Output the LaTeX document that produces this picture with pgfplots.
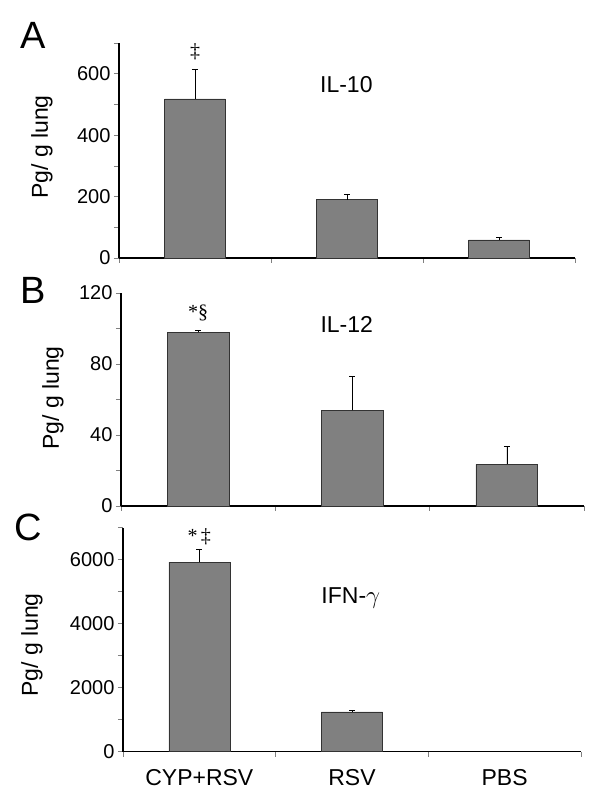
\documentclass[border=0pt]{standalone}
\usepackage{fontspec}
\setmainfont{Liberation Sans}
\newfontfamily\seriffont{Liberation Serif}
\usepackage{pgfplots}
\pgfplotsset{compat=1.18}
\definecolor{barfill}{HTML}{808080}
\pgfplotsset{
 panel/.style={
  scale only axis,
  ybar,
  bar width=0.4,
  axis lines*=left,
  axis line style={line width=1.5pt, black},
  xmin=-0.5, xmax=2.5,
  xtick={0,1,2},
  major x tick style={draw=none},
  minor xtick={-0.5,0.5,1.5,2.5},
  minor x tick style={gray, line width=0.5pt},
  tick align=outside,
  minor tick length=5pt,
  major tick length=5pt,
  ytick style={gray, line width=0.5pt},
  ymin=0,
  ylabel={Pg/ g lung},
  label style={font=\fontsize{23}{26}\selectfont},
  tick label style={font=\fontsize{20}{24}\selectfont},
  /pgf/number format/assume math mode=true,
  /pgf/number format/1000 sep={},
  scaled y ticks=false,
  clip=false,
 },
 barstyle/.style={fill=barfill, draw=black!80, line width=0.6pt,
  error bars/.cd, y dir=plus, y explicit,
  error bar style={line width=0.6pt, black},
  error mark options={rotate=90, mark size=3pt, line width=0.6pt, black}},
}
\begin{document}
\begin{tikzpicture}
\useasboundingbox (0,0) rectangle (600pt,809pt);
% Panel A
\begin{axis}[panel, at={(119pt,551pt)}, anchor=south west,
  width=456pt, height=215pt, ymax=700,
  ytick={0,200,400,600}, minor ytick={100,300,500,700},
  xticklabels={,,},
  ylabel style={at={(axis description cs:-0.169,0.516)}, anchor=center}]
\addplot[barstyle] coordinates {(0,518) +- (0,96) (1,190) +- (0,16) (2,59) +- (0,9)};
\node[anchor=west, font=\fontsize{23}{26}\selectfont] at (axis cs:0.80,563) {IL-10};
\node[font=\seriffont\fontsize{20}{24}\selectfont] at (axis cs:0,671) {‡};
\node[font=\fontsize{38}{40}\selectfont] at (axis description cs:-0.188,1.035) {A};
\end{axis}
% Panel B
\begin{axis}[panel, at={(121pt,303pt)}, anchor=south west,
  width=463pt, height=213pt, ymax=120,
  ytick={0,40,80,120}, minor ytick={20,60,100},
  xticklabels={,,},
  ylabel style={at={(axis description cs:-0.147,0.507)}, anchor=center}]
\addplot[barstyle] coordinates {(0,97.8) +- (0,1) (1,53.9) +- (0,19) (2,23.5) +- (0,9.9)};
\node[anchor=west, font=\fontsize{23}{26}\selectfont] at (axis cs:0.77,102) {IL-12};
\node[font=\seriffont\fontsize{20}{24}\selectfont] at (axis cs:0,108.7) {*§};
\node[font=\fontsize{38}{40}\selectfont] at (axis description cs:-0.19,1.014) {B};
\end{axis}
% Panel C
\begin{axis}[panel, at={(123pt,57.3pt)}, anchor=south west,
  width=458pt, height=224pt, ymax=7000,
  ytick={0,2000,4000,6000}, minor ytick={1000,3000,5000,7000},
  xticklabels={CYP+RSV,RSV,PBS},
  xticklabel style={font=\fontsize{23}{26}\selectfont, yshift=-9pt},
  ylabel style={at={(axis description cs:-0.199,0.476)}, anchor=center}]
\addplot[barstyle] coordinates {(0,5928) +- (0,407) (1,1243) +- (0,52)};
\node[anchor=west, font=\fontsize{23}{26}\selectfont] at (axis cs:0.777,4800) {IFN-$\gamma$};
\node[font=\seriffont\fontsize{20}{24}\selectfont] at (axis cs:0,6710) {*\,‡};
\node[font=\fontsize{38}{40}\selectfont] at (axis description cs:-0.207,1.0) {C};
\end{axis}
\end{tikzpicture}
\end{document}
